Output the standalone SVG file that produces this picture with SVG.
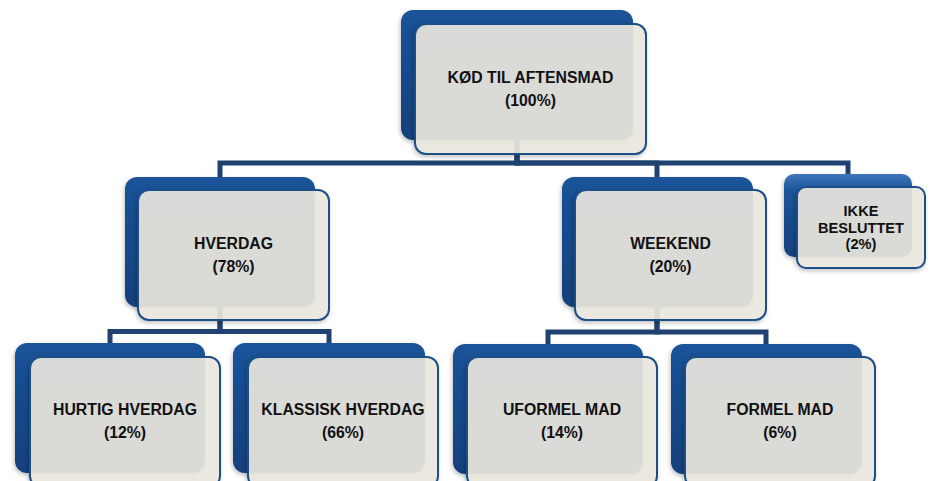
<svg xmlns="http://www.w3.org/2000/svg" width="932" height="481" viewBox="0 0 932 481">
<defs>
<linearGradient id="blue" x1="0" y1="0" x2="0" y2="1">
<stop offset="0" stop-color="#1a5399"/>
<stop offset="1" stop-color="#15407c"/>
</linearGradient>
<linearGradient id="gloss" x1="0" y1="0" x2="0" y2="1">
<stop offset="0" stop-color="#3d74b8"/>
<stop offset="0.22" stop-color="#1b549a"/>
<stop offset="1" stop-color="#15407c"/>
</linearGradient>
<filter id="sh" x="-10%" y="-10%" width="125%" height="125%">
<feDropShadow dx="-1" dy="2" stdDeviation="2" flood-color="#000" flood-opacity="0.25"/>
</filter>
</defs>
<style>
.back{fill:url(#blue);filter:url(#sh)}
.backg{fill:url(#gloss);filter:url(#sh)}
.front{fill:#ece9e0;fill-opacity:0.9;stroke:#1f4f88;stroke-width:2;filter:url(#sh)}
.conn{fill:none;stroke:#1f4270;stroke-width:5;stroke-linejoin:miter}
text{font-family:"Liberation Sans",Arial,sans-serif;font-weight:bold;font-size:15.8px;fill:#111;text-anchor:middle}
.small{font-size:14.6px}
</style>
<rect width="932" height="481" fill="#fff"/>
<g id="connectors">
<path class="conn" d="M517 140 V163 H220 V177"/>
<path class="conn" d="M517 140 V163 H657 V177"/>
<path class="conn" d="M517 140 V163 H848 V174"/>
<path class="conn" d="M220 307 V331.5 H110 V343"/>
<path class="conn" d="M220 307 V331.5 H329 V343"/>
<path class="conn" d="M657 307 V332 H548 V344"/>
<path class="conn" d="M657 307 V332 H766 V344"/>
</g>
<g id="node-top">
<rect class="back" x="401" y="10" width="232" height="130" rx="12"/>
<rect class="front" x="415" y="24" width="231" height="130" rx="11"/>
<text x="530.5" y="83">KØD TIL AFTENSMAD</text>
<text x="530.5" y="106">(100%)</text>
</g>
<g id="node-hverdag">
<rect class="back" x="125" y="177" width="190" height="130" rx="12"/>
<rect class="front" x="138" y="190" width="191" height="130" rx="11"/>
<text x="233.5" y="249">HVERDAG</text>
<text x="233.5" y="272">(78%)</text>
</g>
<g id="node-weekend">
<rect class="back" x="562" y="177" width="191" height="130" rx="12"/>
<rect class="front" x="575" y="190" width="191" height="130" rx="11"/>
<text x="670.5" y="249">WEEKEND</text>
<text x="670.5" y="272">(20%)</text>
</g>
<g id="node-ikke">
<rect class="backg" x="784" y="174" width="128" height="83" rx="10"/>
<rect class="front" x="797" y="187" width="128" height="81" rx="9"/>
<text class="small" x="861" y="216">IKKE</text>
<text class="small" x="861" y="232.6">BESLUTTET</text>
<text class="small" x="861" y="249.2">(2%)</text>
</g>
<g id="node-hurtig">
<rect class="back" x="15" y="343" width="190" height="130" rx="12"/>
<rect class="front" x="30" y="357" width="190" height="130" rx="11"/>
<text x="125" y="415">HURTIG HVERDAG</text>
<text x="125" y="438">(12%)</text>
</g>
<g id="node-klassisk">
<rect class="back" x="233" y="343" width="192" height="130" rx="12"/>
<rect class="front" x="248" y="357" width="190" height="130" rx="11"/>
<text x="343" y="415">KLASSISK HVERDAG</text>
<text x="343" y="438">(66%)</text>
</g>
<g id="node-uformel">
<rect class="back" x="453" y="344" width="190" height="130" rx="12"/>
<rect class="front" x="467" y="357" width="190" height="130" rx="11"/>
<text x="562" y="415">UFORMEL MAD</text>
<text x="562" y="438">(14%)</text>
</g>
<g id="node-formel">
<rect class="back" x="671" y="344" width="191" height="130" rx="12"/>
<rect class="front" x="685" y="357" width="190" height="130" rx="11"/>
<text x="780" y="415">FORMEL MAD</text>
<text x="780" y="438">(6%)</text>
</g>
</svg>
